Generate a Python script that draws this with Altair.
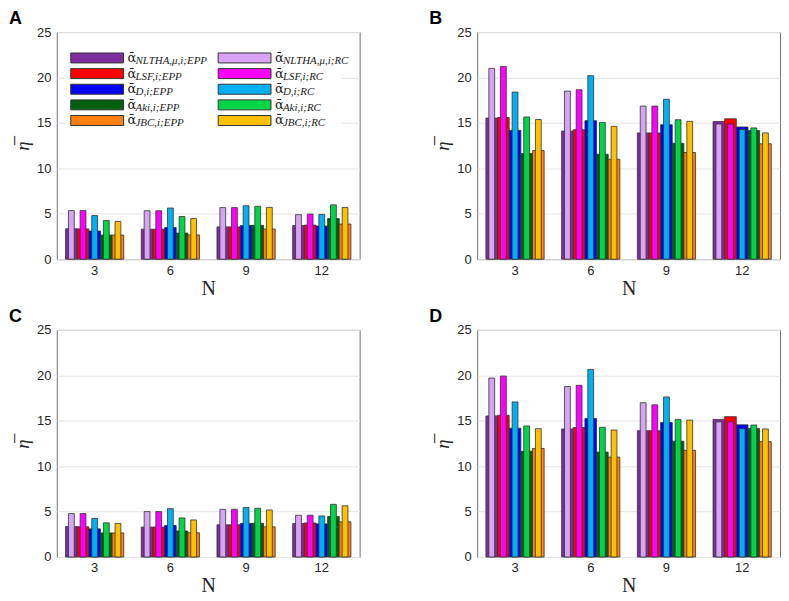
import altair as alt
import pandas as pd

N_VALUES = [3, 6, 9, 12]
METHODS = ["NLTHA,μ,i", "LSF,i", "D,i", "Aki,i", "JBC,i"]
EPP_COLORS = ["#7E2DA0", "#FF0000", "#0000FF", "#006010", "#FF8010"]
RC_COLORS = ["#D9A3F5", "#FF00FF", "#00B0F0", "#00D447", "#FFC000"]

# rows: N = 3, 6, 9, 12 ; columns: NLTHA, LSF, D, Aki, JBC
EPP_AC = [[3.35, 3.33, 3.10, 2.65, 2.65],
          [3.30, 3.30, 3.48, 2.87, 2.67],
          [3.55, 3.55, 3.70, 3.72, 3.32],
          [3.70, 3.75, 3.65, 4.47, 3.87]]
RC_A = [[5.35, 5.35, 4.80, 4.25, 4.15],
        [5.33, 5.33, 5.63, 4.70, 4.47],
        [5.68, 5.68, 5.88, 5.82, 5.70],
        [4.90, 4.96, 4.93, 5.98, 5.68]]
RC_C = [[4.78, 4.78, 4.24, 3.76, 3.70],
        [5.00, 5.00, 5.32, 4.30, 4.08],
        [5.25, 5.25, 5.46, 5.36, 5.18],
        [4.60, 4.60, 4.52, 5.80, 5.64]]
EPP_BD = [[15.53, 15.60, 14.18, 11.63, 11.95],
          [14.10, 14.25, 15.25, 11.55, 11.00],
          [13.90, 13.90, 14.80, 12.75, 11.74],
          [15.15, 15.45, 14.55, 14.15, 12.70]]
RC_B = [[21.00, 21.22, 18.39, 15.65, 15.37],
        [18.50, 18.65, 20.20, 15.05, 14.62],
        [16.85, 16.85, 17.60, 15.35, 15.17],
        [14.88, 14.88, 14.27, 14.45, 13.90]]
RC_D = [[19.70, 19.92, 17.07, 14.42, 14.13],
        [18.77, 18.90, 20.65, 14.28, 13.98],
        [16.98, 16.75, 17.62, 15.15, 15.07],
        [14.88, 14.88, 14.13, 14.53, 14.10]]

KEYS = [f"EPP{i}" for i in range(5)] + [f"RC{i}" for i in range(5)]
COLORS = EPP_COLORS + RC_COLORS
SUBS = [f"{m};EPP" for m in METHODS] + [f"{m};RC" for m in METHODS]

PW, PH = 304, 228


def long_df(vals, kind):
    rows = []
    for gi, n in enumerate(N_VALUES):
        for mi in range(5):
            rows.append({"N": n, "m": mi, "key": f"{kind}{mi}", "value": vals[gi][mi]})
    return pd.DataFrame(rows)


color_enc = alt.Color("key:N", scale=alt.Scale(domain=KEYS, range=COLORS), legend=None)


def panel(epp, rc, label, with_legend):
    x_enc = alt.X("N:O", sort=N_VALUES,
                  scale=alt.Scale(paddingInner=0.231, paddingOuter=0.1155),
                  axis=alt.Axis(title="N", labelAngle=0, ticks=False, domain=False,
                                labelFontSize=13, labelFont="Liberation Sans",
                                labelColor="#262626", labelPadding=5,
                                titleFont="Liberation Serif", titleFontSize=20,
                                titleFontWeight="normal", titleColor="#262626",
                                titlePadding=1))
    y_enc = alt.Y("value:Q", scale=alt.Scale(domain=[0, 25], nice=False),
                  axis=alt.Axis(title="η\u0305", values=[0, 5, 10, 15, 20, 25],
                                grid=True, gridColor="#e3e3e3", ticks=False, domain=False,
                                labelFontSize=13, labelFont="Liberation Sans",
                                labelColor="#262626", labelPadding=6,
                                titleFont="Liberation Serif", titleFontSize=19,
                                titleFontStyle="italic", titleFontWeight="normal",
                                titleColor="#262626", titlePadding=4))
    b1 = alt.Chart(long_df(epp, "EPP")).mark_bar(stroke="#333333", strokeWidth=0.8).encode(
        x=x_enc, y=y_enc,
        xOffset=alt.XOffset("m:O", scale=alt.Scale(paddingInner=0, paddingOuter=0)),
        color=color_enc)
    b2 = alt.Chart(long_df(rc, "RC")).mark_bar(stroke="#333333", strokeWidth=0.8).encode(
        x=x_enc, y=y_enc,
        xOffset=alt.XOffset("m:O", scale=alt.Scale(paddingInner=0.5, paddingOuter=0.25)),
        color=color_enc)
    bars = alt.layer(b1, b2).resolve_scale(xOffset="independent")
    letter = alt.Chart(pd.DataFrame({"t": [label]})).mark_text(
        font="Liberation Sans", fontWeight="bold", fontSize=18, align="left",
        baseline="middle", color="#000000").encode(
        x=alt.value(-48), y=alt.value(-13), text="t:N")
    layers = [bars, letter]
    if with_legend:
        ldf = pd.DataFrame({"idx": list(range(10)), "key": KEYS, "sub": SUBS})
        base = alt.Chart(ldf).transform_calculate(
            lrow="datum.idx % 5", lcol="floor(datum.idx / 5)"
        ).transform_calculate(
            sx="14 + datum.lcol * 148", sy="21 + datum.lrow * 15.7"
        ).transform_calculate(
            sx2="datum.sx + 53", sy2="datum.sy + 10",
            tx="datum.sx + 57", ty="datum.sy + 5", ux="datum.sx + 65", uy="datum.sy + 8"
        )
        bg = alt.Chart(pd.DataFrame({"a": [0]})).mark_rect(fill="white").encode(
            x=alt.value(8), x2=alt.value(286), y=alt.value(15), y2=alt.value(96))
        sw = base.mark_rect(stroke="#333333", strokeWidth=1).encode(
            x=alt.X("sx:Q", scale=None), x2="sx2:Q",
            y=alt.Y("sy:Q", scale=None), y2="sy2:Q", color=color_enc)
        al = base.mark_text(text="ᾱ", font="DejaVu Serif", fontSize=13, align="left",
                            baseline="middle", color="#222222").encode(
            x=alt.X("tx:Q", scale=None), y=alt.Y("ty:Q", scale=None))
        sb = base.mark_text(font="Liberation Serif", fontStyle="italic", fontSize=11,
                            align="left", baseline="middle", color="#222222").encode(
            x=alt.X("ux:Q", scale=None), y=alt.Y("uy:Q", scale=None), text="sub:N")
        layers += [bg, sw, al, sb]
    return alt.layer(*layers).properties(width=PW, height=PH)


pA = panel(EPP_AC, RC_A, "A", True)
pB = panel(EPP_BD, RC_B, "B", False)
pC = panel(EPP_AC, RC_C, "C", False)
pD = panel(EPP_BD, RC_D, "D", False)

top = alt.hconcat(pA, pB, spacing=68)
bottom = alt.hconcat(pC, pD, spacing=68)
chart = alt.vconcat(top, bottom, spacing=8).configure_view(
    stroke="#707070", strokeWidth=1
).properties(padding=0, background="white")

chart.save("out.html", embed_options={"renderer": "svg", "actions": False})
